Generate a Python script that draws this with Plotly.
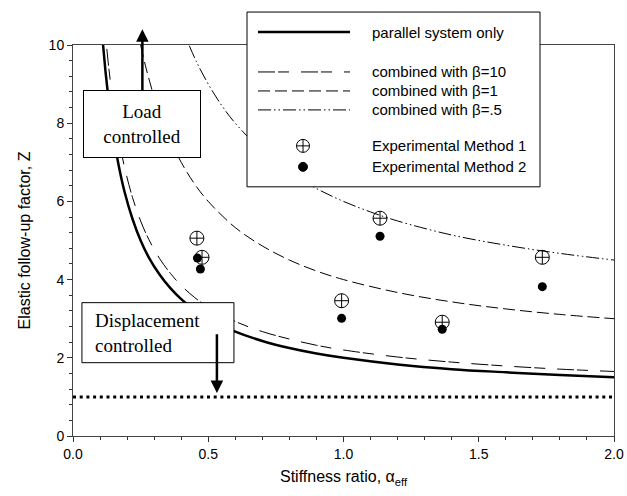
import plotly.graph_objects as go

# ---- data ----
x_par = [0.10, 0.11, 0.12, 0.13, 0.14, 0.15, 0.17, 0.19, 0.22, 0.25, 0.28, 0.32, 0.36, 0.40,
         0.45, 0.50, 0.60, 0.70, 0.80, 0.90, 1.00, 1.20, 1.40, 1.60, 1.80, 2.00]
z_parallel = [11.0, 10.09, 9.33, 8.69, 8.14, 7.67, 6.88, 6.26, 5.55, 5.0, 4.57, 4.13, 3.78, 3.5,
              3.22, 3.0, 2.67, 2.43, 2.25, 2.11, 2.0, 1.83, 1.71, 1.63, 1.56, 1.5]
z_beta10 = [12.1, 11.1, 10.27, 9.56, 8.96, 8.43, 7.57, 6.89, 6.1, 5.5, 5.03, 4.54, 4.16, 3.85,
            3.54, 3.3, 2.93, 2.67, 2.48, 2.32, 2.2, 2.02, 1.89, 1.79, 1.71, 1.65]
x_b1 = [0.25, 0.27, 0.30, 0.33, 0.36, 0.40, 0.45, 0.50, 0.60, 0.70, 0.80, 0.90, 1.00, 1.20,
        1.40, 1.60, 1.80, 2.00]
z_beta1 = [10.0, 9.41, 8.67, 8.06, 7.56, 7.0, 6.44, 6.0, 5.33, 4.86, 4.5, 4.22, 4.0, 3.67,
           3.43, 3.25, 3.11, 3.0]
x_b05 = [0.43, 0.46, 0.50, 0.55, 0.60, 0.70, 0.80, 0.90, 1.00, 1.10, 1.20, 1.40, 1.60, 1.80, 2.00]
z_beta05 = [9.98, 9.52, 9.0, 8.45, 8.0, 7.29, 6.75, 6.33, 6.0, 5.73, 5.5, 5.14, 4.88, 4.67, 4.5]

x_m1 = [0.458, 0.477, 0.993, 1.135, 1.365, 1.735]
z_m1 = [5.06, 4.57, 3.46, 5.57, 2.91, 4.57]
x_m2 = [0.46, 0.471, 0.993, 1.135, 1.365, 1.735]
z_m2 = [4.55, 4.27, 3.01, 5.11, 2.73, 3.82]

x_ref = [0.0, 2.0]
z_ref = [1.0, 1.0]

legend_labels = ["parallel system only", "combined with β=10", "combined with β=1",
                 "combined with β=.5", "Experimental Method 1", "Experimental Method 2"]

FONT = "Liberation Sans, Arial, sans-serif"
SERIF = "Liberation Serif, Times New Roman, serif"

# plot area in page pixels (for placing the legend box in paper coordinates)
L, R, T, B = 73, 614, 45, 436.5
def px(x):
    return (x - L) / (R - L)
def py(y):
    return (B - y) / (B - T)

DASH_B10 = "17px,3px,11px,12px"
DASH_B1 = "12px,5px"
DASH_B05 = "13px,3px,1.5px,3px,1.5px,3px"

fig = go.Figure()
fig.add_trace(go.Scatter(x=x_ref, y=z_ref, mode="lines", showlegend=False,
                         line=dict(color="black", width=3, dash="3px,3.7px")))
fig.add_trace(go.Scatter(x=x_par, y=z_parallel, mode="lines", name=legend_labels[0], showlegend=False,
                         line=dict(color="black", width=2.5, shape="spline")))
fig.add_trace(go.Scatter(x=x_par, y=z_beta10, mode="lines", name=legend_labels[1], showlegend=False,
                         line=dict(color="black", width=1, dash=DASH_B10, shape="spline")))
fig.add_trace(go.Scatter(x=x_b1, y=z_beta1, mode="lines", name=legend_labels[2], showlegend=False,
                         line=dict(color="black", width=1, dash=DASH_B1, shape="spline")))
fig.add_trace(go.Scatter(x=x_b05, y=z_beta05, mode="lines", name=legend_labels[3], showlegend=False,
                         line=dict(color="black", width=1, dash=DASH_B05, shape="spline")))
fig.add_trace(go.Scatter(x=x_m1, y=z_m1, mode="markers", name=legend_labels[4], showlegend=False,
                         marker=dict(symbol="circle-cross-open", size=14, color="black", line=dict(width=1))))
fig.add_trace(go.Scatter(x=x_m2, y=z_m2, mode="markers", name=legend_labels[5], showlegend=False,
                         marker=dict(symbol="circle", size=9, color="black")))

# ---- hand-made legend (box, samples, labels) ----
rows = [32, 72, 91, 110, 146, 167]
shapes = [
    dict(type="rect", xref="paper", yref="paper", x0=px(247), x1=px(540), y0=py(187), y1=py(12),
         line=dict(color="black", width=1), fillcolor="white", layer="above"),
]
line_styles = [(2.5, "solid"), (1, DASH_B10), (1, DASH_B1), (1, DASH_B05)]
for (w, d), r in zip(line_styles, rows[:4]):
    shapes.append(dict(type="line", xref="paper", yref="paper", x0=px(258), x1=px(350),
                       y0=py(r), y1=py(r), line=dict(color="black", width=w, dash=d), layer="above"))
cx = 303
r1 = rows[4]
shapes.append(dict(type="circle", xref="paper", yref="paper", x0=px(cx - 6.5), x1=px(cx + 6.5),
                   y0=py(r1 + 6.5), y1=py(r1 - 6.5), line=dict(color="black", width=1),
                   fillcolor="rgba(0,0,0,0)", layer="above"))
shapes.append(dict(type="line", xref="paper", yref="paper", x0=px(cx - 6.5), x1=px(cx + 6.5),
                   y0=py(r1), y1=py(r1), line=dict(color="black", width=1), layer="above"))
shapes.append(dict(type="line", xref="paper", yref="paper", x0=px(cx), x1=px(cx),
                   y0=py(r1 + 6.5), y1=py(r1 - 6.5), line=dict(color="black", width=1), layer="above"))
r2 = rows[5]
shapes.append(dict(type="circle", xref="paper", yref="paper", x0=px(cx - 4.5), x1=px(cx + 4.5),
                   y0=py(r2 + 4.5), y1=py(r2 - 4.5), line=dict(color="black", width=1),
                   fillcolor="black", layer="above"))
# Displacement-controlled box
shapes.append(dict(type="rect", xref="x", yref="y", x0=0.033, x1=0.595, y0=1.875, y1=3.41,
                   line=dict(color="black", width=1), fillcolor="white", layer="above"))

annotations = []
for lab, r in zip(legend_labels, rows):
    annotations.append(dict(x=px(370), y=py(r), xref="paper", yref="paper", text=lab,
                            showarrow=False, xanchor="left", yanchor="middle",
                            font=dict(family=FONT, size=15, color="black")))

annotations += [
    dict(x=0.2565, y=10.4, ax=0.2565, ay=7.97, xref="x", yref="y", axref="x", ayref="y",
         text="Load<br>controlled", showarrow=True, arrowhead=2, arrowsize=1, arrowwidth=2.5,
         arrowcolor="black", width=116, height=66, bgcolor="white", bordercolor="black",
         borderwidth=1, borderpad=0, align="center",
         font=dict(family=SERIF, size=19, color="black")),
    dict(x=0.075, y=2.64, xref="x", yref="y", text="Displacement<br>controlled", showarrow=False,
         xanchor="left", font=dict(family=SERIF, size=19, color="black"), align="left"),
    dict(x=0.532, y=1.1, ax=0.532, ay=2.64, xref="x", yref="y", axref="x", ayref="y",
         text="", showarrow=True, arrowhead=2, arrowsize=1, arrowwidth=2.5, arrowcolor="black"),
]

fig.update_layout(
    width=627, height=496,
    margin=dict(l=L, r=627 - R, t=T, b=496 - B, autoexpand=False),
    paper_bgcolor="white", plot_bgcolor="white",
    font=dict(family=FONT, size=14, color="black"),
    shapes=shapes, annotations=annotations, showlegend=False,
    xaxis=dict(range=[0, 2], tickvals=[0, 0.5, 1.0, 1.5, 2.0],
               ticktext=["0.0", "0.5", "1.0", "1.5", "2.0"],
               ticks="outside", ticklen=5, tickcolor="#333", showgrid=False, zeroline=False,
               showline=True, linecolor="#444", linewidth=1, mirror=True,
               minor=dict(dtick=0.1, ticks="outside", ticklen=3, tickcolor="#333", showgrid=False),
               title=dict(text="Stiffness ratio, α<sub>eff</sub>", font=dict(size=16), standoff=10),
               tickfont=dict(size=14)),
    yaxis=dict(range=[0, 10], tickvals=[0, 2, 4, 6, 8, 10],
               ticks="outside", ticklen=5, tickcolor="#333", showgrid=False, zeroline=False,
               showline=True, linecolor="#444", linewidth=1, mirror=True,
               minor=dict(dtick=0.4, ticks="outside", ticklen=3, tickcolor="#333", showgrid=False),
               title=dict(text="Elastic follow-up factor, Z", font=dict(size=16), standoff=14),
               tickfont=dict(size=14)),
)

fig.write_html("out.html", config={"displayModeBar": False},
               post_script="document.body.style.margin='0';document.body.style.padding='0';")
